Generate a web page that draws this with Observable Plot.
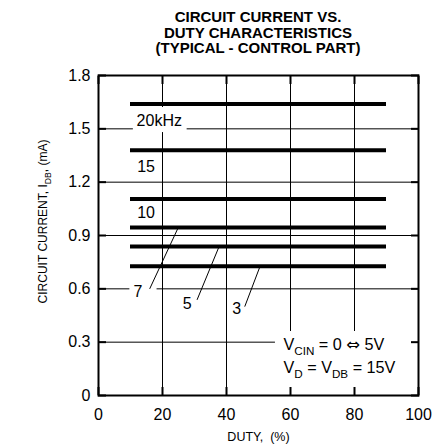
<!DOCTYPE html>
<html>
<head>
<meta charset="utf-8">
<script src="https://cdn.jsdelivr.net/npm/d3@7"></script>
<script src="https://cdn.jsdelivr.net/npm/@observablehq/plot@0.6"></script>
<style>
  html, body { margin: 0; padding: 0; background: #fff; }
  body { position: relative; width: 440px; height: 448px; overflow: hidden; font-family: "Liberation Sans", Arial, sans-serif; }
  #title { position: absolute; left: 0; top: 9px; width: 516px; text-align: center; font-weight: bold; font-size: 15px; line-height: 15.5px; color: #000; z-index: 2; }
  #chart { position: absolute; left: 0; top: 0; }
</style>
</head>
<body>
<div id="title">CIRCUIT CURRENT VS.<br>DUTY CHARACTERISTICS<br>(TYPICAL - CONTROL PART)</div>
<div id="chart"></div>
<script>
// ---- data ----
const xTicks = [0, 20, 40, 60, 80, 100];
const yTicks = [0, 0.3, 0.6, 0.9, 1.2, 1.5, 1.8];
const yTickLabels = ["0", "0.3", "0.6", "0.9", "1.2", "1.5", "1.8"];
const dutyRange = [10, 90];
const seriesLabels = ["20kHz", "15", "10", "7", "5", "3"];
const seriesCurrent = [1.64, 1.38, 1.105, 0.945, 0.838, 0.727];
const labelDuty = [11.9, 12.1, 12.1, 10.9, 26.3, 41.8];
const labelCurrent = [1.543, 1.284, 1.025, 0.581, 0.516, 0.488];
const leaderFromDuty = [16.0, 30.8, 45.7];
const leaderFromCurrent = [0.600, 0.538, 0.500];
const leaderToDuty = [24.8, 37.5, 50.3];
const leaderToCurrent = [0.940, 0.830, 0.718];
// grid segments (gaps where labels sit)
const hGridY = [0.3, 0.6, 0.6, 0.9, 1.2, 1.5, 1.5];
const hGridFrom = [0, 0, 18.3, 0, 0, 0, 27.7];
const hGridTo = [55.3, 9.8, 100, 100, 100, 10.9, 100];
const vGridX = [20, 20, 40, 60, 80];
const vGridFrom = [0, 1.62, 0, 0.36, 0.36];
const vGridTo = [1.479, 1.8, 1.8, 1.8, 1.8];
const conditionText = ["V{CIN} = 0 \u21d4 5V", "V{D} = V{DB} = 15V"];
const conditionDuty = [57.8, 57.8];
const conditionCurrent = [0.283, 0.156];
const xLabel = "DUTY,\u00a0 (%)";
const yLabel = "CIRCUIT CURRENT, I{DB}, (mA)";

// ---- tables ----
const series = seriesLabels.map((s, i) => ({label: s, current: seriesCurrent[i], lx: labelDuty[i], ly: labelCurrent[i]}));
const leaders = leaderFromDuty.map((d, i) => ({x1: d, y1: leaderFromCurrent[i], x2: leaderToDuty[i], y2: leaderToCurrent[i]}));
const hGrid = hGridY.map((y, i) => ({y, x1: hGridFrom[i], x2: hGridTo[i]}));
const vGrid = vGridX.map((x, i) => ({x, y1: vGridFrom[i], y2: vGridTo[i]}));
const conditions = conditionText.map((t, i) => ({t, x: conditionDuty[i], y: conditionCurrent[i]}));
const yFmt = d => yTickLabels[yTicks.indexOf(d)];

const chart = Plot.plot({
  width: 440,
  height: 448,
  marginTop: 75,
  marginBottom: 53,
  marginLeft: 98,
  marginRight: 22,
  style: {fontFamily: "'Liberation Sans', Arial, sans-serif", fontSize: "16px", background: "transparent", color: "#000"},
  x: {domain: [0, 100]},
  y: {domain: [0, 1.8]},
  marks: [
    Plot.ruleY(hGrid, {y: "y", x1: "x1", x2: "x2", stroke: "#000", strokeWidth: 1}),
    Plot.ruleX(vGrid, {x: "x", y1: "y1", y2: "y2", stroke: "#000", strokeWidth: 1}),
    Plot.ruleY(series, {y: "current", x1: dutyRange[0], x2: dutyRange[1], stroke: "#000", strokeWidth: 4}),
    Plot.link(leaders, {x1: "x1", y1: "y1", x2: "x2", y2: "y2", stroke: "#000", strokeWidth: 1}),
    Plot.text(series, {x: "lx", y: "ly", text: "label", textAnchor: "start", lineAnchor: "middle", fontSize: 16}),
    Plot.text(conditions, {x: "x", y: "y", text: "t", textAnchor: "start", lineAnchor: "middle", fontSize: 16.2}),
    Plot.frame({stroke: "#000", strokeWidth: 2}),
    Plot.axisY({ticks: yTicks, tickFormat: yFmt, tickSize: -8, tickPadding: 16, strokeWidth: 2, fontSize: 16, label: null}),
    Plot.axisY({anchor: "right", ticks: yTicks, tickFormat: () => "", tickSize: -8, strokeWidth: 2, label: null}),
    Plot.axisX({ticks: xTicks, tickSize: -8, tickPadding: 21, strokeWidth: 2, fontSize: 16, label: null}),
    Plot.axisX({anchor: "top", ticks: xTicks, tickFormat: () => "", tickSize: -8, strokeWidth: 2, label: null}),
    Plot.text([xLabel], {frameAnchor: "bottom", dy: 41, lineAnchor: "middle", fontSize: 12.5}),
    Plot.text([yLabel], {frameAnchor: "left", dx: -55, dy: -14, rotate: -90, textAnchor: "middle", lineAnchor: "middle", fontSize: 12})
  ]
});
document.getElementById("chart").appendChild(chart);

// subscripts for text written as X{sub}; wide arrow glyph from DejaVu Sans
const SVGNS = "http://www.w3.org/2000/svg";
chart.querySelectorAll("text").forEach(t => {
  const s = t.textContent;
  if (!s.includes("{") && !s.includes("\u21d4")) return;
  t.textContent = "";
  let shifted = false;
  for (const p of s.split(/(\{[^}]*\}|\u21d4)/)) {
    if (!p) continue;
    const ts = document.createElementNS(SVGNS, "tspan");
    if (p.startsWith("{")) {
      ts.textContent = p.slice(1, -1);
      ts.setAttribute("font-size", "72%");
      ts.setAttribute("dy", "0.4em");
      shifted = true;
    } else {
      ts.textContent = p;
      if (p === "\u21d4") ts.setAttribute("font-family", "DejaVu Sans");
      if (shifted) { ts.setAttribute("dy", "-0.288em"); shifted = false; }
    }
    t.appendChild(ts);
  }
});
</script>
</body>
</html>
